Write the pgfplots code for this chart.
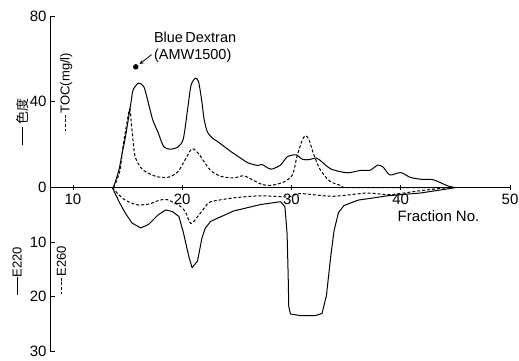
\documentclass[border=0pt]{standalone}
\usepackage{fontspec}
\setmainfont{Liberation Sans}
\newfontfamily\cjk{Noto Sans CJK JP}
\usepackage{pgfplots}
\pgfplotsset{compat=1.18}
\newcommand{\solidrule}{\rule[0.32em]{1.4em}{0.7pt}}
\newcommand{\dseg}{\rule[0.32em]{0.22em}{0.7pt}\hspace{0.13em}}
\newcommand{\dashrule}{\dseg\dseg\dseg\dseg}
\begin{document}
\begin{tikzpicture}
\begin{axis}[
  scale only axis, width=460pt, height=335pt,
  xmin=7.9, xmax=50, ymin=-76.2, ymax=80,
  axis x line=middle, axis y line=left,
  axis line style={-, line width=0.9pt},
  xtick={10,20,30,40,50}, xticklabels={10,20,30,40,50},
  ytick={-76.2,-50.8,-25.4,0,40,80}, yticklabels={30,20,10,0,40,80},
  hide obscured x ticks=false, hide obscured y ticks=false,
  tick style={black, line width=0.8pt},
  major tick length=5pt,
  xtick align=center, ytick align=inside,
  ticklabel style={font=\fontsize{15}{15}\selectfont},
  clip=false,
  every axis plot/.append style={black, line width=1pt, smooth, tension=0.45, no markers},
]
% color (solid)
\addplot[black, solid, no markers] coordinates {(13.7,0) (14.2,8) (14.5,16) (14.8,23.5) (15.3,39.3) (15.5,45.4) (16.0,48.7) (16.5,46.9) (16.9,39.5) (17.3,31.6) (17.8,25.6) (18.3,19.1) (18.9,17.9) (19.6,18.9) (20.1,22.7) (20.5,36.7) (20.8,47.5) (21.2,51) (21.5,49.3) (21.8,40) (22.0,32) (22.3,26) (22.8,22.9) (23.2,21.6) (24.4,17) (25.3,13.9) (26.0,11.6) (26.9,10.3) (27.3,10.8) (28.1,8.6) (29.0,10.5) (29.6,14.3) (30.4,15.3) (31.0,13.2) (31.6,13.0) (32.2,13.8) (32.6,12.8) (33.6,8.7) (35.1,6.9) (36.3,8.0) (37.2,8.1) (37.9,10.5) (38.4,9.5) (39.0,5.9) (40.0,7.0) (40.9,4.7) (42.0,3.8) (43.0,3.6) (44.3,0.8) (45.0,0)};
% TOC (dashed)
\addplot[black, densely dashed, no markers] coordinates {(13.7,0) (13.9,2) (14.3,8) (14.6,19.7) (14.9,29) (15.2,36.6) (15.4,27) (15.7,14.3) (16.4,8.3) (17.6,5.2) (18.7,4.8) (19.6,7.3) (20.3,13.3) (20.9,18.1) (21.5,15.8) (22.0,12.1) (22.6,8) (23.5,5.3) (24.7,4.5) (25.6,5.5) (26.4,3.7) (27.3,1.5) (28.1,1) (29.3,2.6) (30.1,6) (30.5,14.4) (31.0,22.3) (31.3,24.2) (31.6,22.4) (32.0,16) (32.6,8.6) (33.5,3) (34.5,1) (35.1,0) (40,0) (45,0)};
% E260 (dashed), E units, drawn downward
\addplot[black, densely dashed, no markers, y filter/.expression={-2.54*y}] coordinates {(13.6,0) (14.5,1.9) (15.3,2.8) (16.0,3.2) (17.0,3.0) (17.8,2.4) (18.6,2.2) (19.8,3.4) (20.3,4.5) (20.8,6.6) (21.5,5.1) (22.2,3.3) (22.6,2.6) (24.7,1.9) (27.2,1.5) (29.7,1.7) (30.8,1.1) (33.8,1.6) (36.9,1.0) (39.0,1.3) (41.7,0.6) (44.3,0)};
% E220 (solid)
\addplot[black, solid, no markers, sharp plot, line join=round, y filter/.expression={-2.54*y}] coordinates {(13.6,0) (14.3,2.9) (14.8,4.7) (15.4,6.5) (16.2,7.4) (16.9,6.8) (17.8,5.0) (18.5,4.1) (19.1,4.4) (19.7,5.3) (20.1,8.2) (20.6,12.6) (20.9,14.7) (21.4,13.5) (21.8,9.3) (22.1,7.5) (22.6,6.2) (24.7,4.3) (27.2,3.1) (29.0,2.6) (29.4,3.5) (29.6,8.5) (29.7,16.3) (29.75,21.8) (29.9,23.2) (30.8,23.5) (32.2,23.5) (32.8,23.1) (33.2,19.8) (33.6,12.5) (33.9,7.9) (34.3,4.6) (34.8,3.3) (36.1,2.3) (37.5,1.9) (38.8,1.5) (40.0,1.3) (41.8,1.0) (44.1,0.3) (45,0)};
% Blue Dextran marker
\addplot[black, only marks, mark=*, mark size=2.2pt] coordinates {(15.75,56.3)};
\draw[-stealth, line width=0.8pt] (axis cs:17.2,62) -- (axis cs:16.1,57.6);
\node[anchor=north west, align=left, inner sep=0pt, font=\fontsize{14.5}{17}\selectfont] at (axis cs:17.4,72.5) {Blue\,Dextran\\(AMW1500)};
\node[anchor=west, inner sep=0pt, font=\fontsize{15}{15}\selectfont] at (axis cs:39.7,-13.5) {Fraction No.};
% axis labels
\node[rotate=90, font=\fontsize{13}{13}\selectfont] at (axis cs:5.35,30.6) {\solidrule\,{\cjk 色度}};
\node[rotate=90, font=\fontsize{13}{13}\selectfont] at (axis cs:9.4,44.5) {\dashrule TOC(mg/l)};
\node[rotate=90, font=\fontsize{13}{13}\selectfont] at (axis cs:4.9,-39) {\solidrule E220};
\node[rotate=90, font=\fontsize{13}{13}\selectfont] at (axis cs:8.95,-38.5) {\dashrule E260};
\end{axis}
\pgfresetboundingbox
\path[use as bounding box] (-50pt,-10pt) rectangle (469pt,351pt);
\end{tikzpicture}
\end{document}
